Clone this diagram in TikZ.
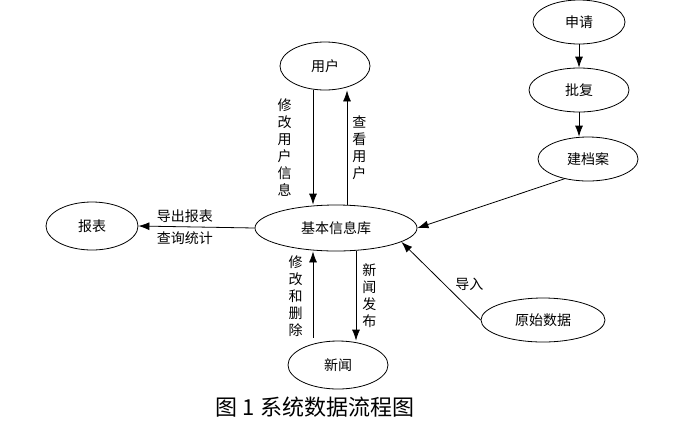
\documentclass[tikz,border=0pt]{standalone}
\usepackage{fontspec}
\setmainfont{Noto Sans CJK SC}
\usetikzlibrary{shapes.geometric, arrows.meta}
\tikzstyle{entity} = [ellipse, draw=black, line width=0.8pt, inner sep=0pt, text centered, font=\fontsize{14}{17}\selectfont]
\tikzstyle{arrow} = [line width=0.8pt, -{Latex[length=11pt,width=8pt]}]
\tikzstyle{vlabel} = [align=center, inner sep=2pt, font=\fontsize{14}{17}\selectfont]
\tikzstyle{hlabel} = [inner sep=2pt, font=\fontsize{14}{17}\selectfont]

\begin{document}
\begin{tikzpicture}[x=1pt, y=-1pt]
  \useasboundingbox (0,0) rectangle (682,424);

  \node (jb) [entity, minimum width=162pt, minimum height=46pt] at (336,228) {基本信息库};
  \node (yh) [entity, minimum width=90pt, minimum height=48pt] at (325,66) {用户};
  \node (xw) [entity, minimum width=100pt, minimum height=48pt] at (338,365) {新闻};
  \node (bb) [entity, minimum width=92pt, minimum height=48pt] at (92,226) {报表};
  \node (sq) [entity, minimum width=92pt, minimum height=44pt] at (579,22) {申请};
  \node (pf) [entity, minimum width=100pt, minimum height=44pt] at (579,90) {批复};
  \node (jd) [entity, minimum width=100pt, minimum height=44pt] at (588,159) {建档案};
  \node (ys) [entity, minimum width=124pt, minimum height=44pt] at (543,320) {原始数据};

  \node (cap) at (315,407) {\fontsize{22}{22}\selectfont 图 1 系统数据流程图};

  \draw [arrow] ([xshift=-12pt]yh.south) -- node[vlabel, anchor=east, xshift=-19pt] {修\\改\\用\\户\\信\\息} ([xshift=-12pt]yh.south |- jb.north);
  \draw [arrow] ([xshift=11pt]jb.north) -- node[vlabel, anchor=west, xshift=3pt] {查\\看\\用\\户} ([xshift=11pt]jb.north |- yh.south);
  \draw [arrow, shorten <=3pt] ([xshift=-25pt]xw.north) -- node[vlabel, anchor=east, xshift=-8pt] {修\\改\\和\\删\\除} ([xshift=-25pt]xw.north |- jb.south);
  \draw [arrow] ([xshift=20pt]jb.south) -- node[vlabel, anchor=west, xshift=4pt] {新\\闻\\发\\布} ([xshift=20pt]jb.south |- xw.north);
  \draw [arrow] (jb.west) -- node[pos=0.6, above=2pt, hlabel] {导出报表} node[pos=0.6, below=2pt, hlabel] {查询统计} (bb.east);
  \draw [arrow] (sq.south) -- (pf.north);
  \draw [arrow] (pf.south) -- (pf.south |- jd.north);
  \draw [arrow] (jd.-140) -- (jb.east);
  \draw [arrow] (ys.west) -- node[pos=0.35, anchor=south west, hlabel] {导入} (jb.-12);
\end{tikzpicture}
\end{document}
